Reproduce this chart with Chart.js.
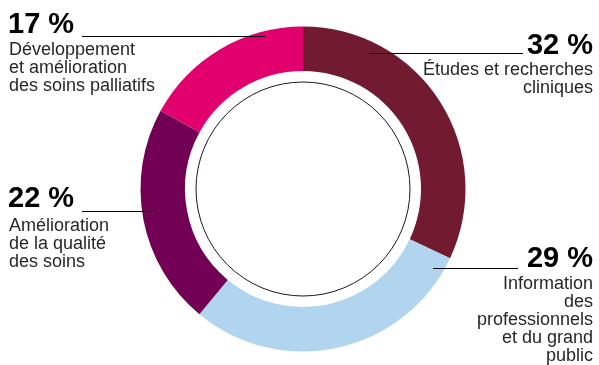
<!DOCTYPE html>
<html lang="fr">
<head>
<meta charset="utf-8">
<title>Répartition</title>
<script src="https://cdn.jsdelivr.net/npm/chart.js@4"></script>
<style>
  html, body { margin: 0; padding: 0; background: #fff; }
  #wrap { width: 599px; height: 365px; position: relative; }
</style>
</head>
<body>
<div id="wrap"><canvas id="donut" width="599" height="365"></canvas></div>
<script>
// données (sens horaire depuis midi)
const CATEGORIES = [
  'Études et recherches cliniques',
  'Information des professionnels et du grand public',
  'Amélioration de la qualité des soins',
  'Développement et amélioration des soins palliatifs'
];
const VALUES = [32, 29, 22, 17];
const COLORS = ['#721a30', '#b1d5ee', '#720054', '#e2006f'];

// texte des étiquettes, découpé comme sur l'image
const LABEL_LINES = [
  ['Études et recherches', 'cliniques'],
  ['Information', 'des', 'professionnels', 'et du grand', 'public'],
  ['Amélioration', 'de la qualité', 'des soins'],
  ['Développement', 'et amélioration', 'des soins palliatifs']
];

// mise en page des étiquettes (x, ligne de base, trait)
const LABEL_LAYOUT = [
  { align: 'right', x: 593, pctY: 54, lineY: 53, lineFrom: 523, lineTo: 369, textY: 75 },
  { align: 'right', x: 593, pctY: 267, lineY: 268, lineFrom: 518, lineTo: 433, textY: 289 },
  { align: 'left', x: 8, pctY: 207, lineY: 211, lineFrom: 82, lineTo: 155, textY: 231 },
  { align: 'left', x: 8, pctY: 33, lineY: 36, lineFrom: 82, lineTo: 265, textY: 55 }
];

var labelsPlugin = {
  id: 'donutLabels',
  afterDraw: function (chart) {
    var ctx = chart.ctx;
    var arc = chart.getDatasetMeta(0).data[0];
    ctx.save();

    // cercle fin à l'intérieur de l'anneau
    ctx.beginPath();
    ctx.arc(arc.x, arc.y, arc.innerRadius - 11, 0, Math.PI * 2);
    ctx.lineWidth = 1;
    ctx.strokeStyle = '#1a1a1a';
    ctx.stroke();

    for (var i = 0; i < VALUES.length; i++) {
      var lay = LABEL_LAYOUT[i];
      ctx.textAlign = lay.align;
      ctx.textBaseline = 'alphabetic';

      ctx.font = 'bold 29px "Liberation Sans", Arial, sans-serif';
      ctx.fillStyle = '#000';
      ctx.fillText(VALUES[i] + ' %', lay.x, lay.pctY);

      ctx.beginPath();
      ctx.moveTo(lay.lineFrom, lay.lineY + 0.5);
      ctx.lineTo(lay.lineTo, lay.lineY + 0.5);
      ctx.lineWidth = 1.2;
      ctx.strokeStyle = '#000';
      ctx.stroke();

      ctx.font = '18px "Liberation Sans", Arial, sans-serif';
      ctx.fillStyle = '#2a2627';
      var lines = LABEL_LINES[i];
      for (var j = 0; j < lines.length; j++) {
        ctx.fillText(lines[j], lay.x + (lay.align === 'left' ? 1 : 0), lay.textY + j * 18);
      }
    }
    ctx.restore();
  }
};

new Chart(document.getElementById('donut'), {
  type: 'doughnut',
  data: {
    labels: CATEGORIES,
    datasets: [{
      data: VALUES,
      backgroundColor: COLORS,
      borderWidth: 0
    }]
  },
  options: {
    responsive: false,
    animation: false,
    cutout: 118,
    layout: { padding: { left: 140.5, right: 133.5, top: 26.5, bottom: 13.5 } },
    plugins: {
      legend: { display: false },
      tooltip: { enabled: false }
    }
  },
  plugins: [labelsPlugin]
});
</script>
</body>
</html>
